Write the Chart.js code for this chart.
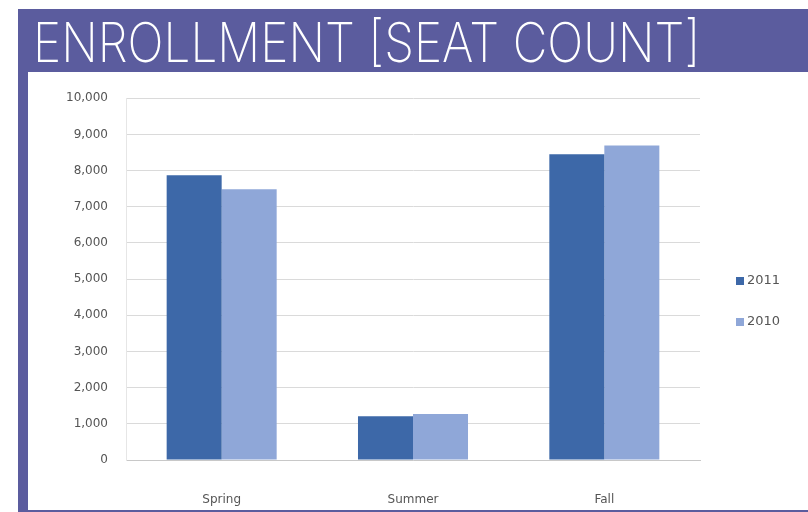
<!DOCTYPE html>
<html>
<head>
<meta charset="utf-8">
<script src="https://cdn.jsdelivr.net/npm/chart.js@4/dist/chart.umd.min.js"></script>
<style>
  html, body { margin: 0; padding: 0; background: #fff; }
  #page { position: relative; width: 808px; height: 512px; overflow: hidden; background: #fff; }
  #header { position: absolute; left: 18px; top: 9px; width: 790px; height: 63px; background: #5b5c9e; }
  #title { position: absolute; left: 15px; top: 6px; color: #fff; font-family: Inter, "Noto Sans", sans-serif;
           font-weight: 200; font-size: 55px; line-height: 55px; white-space: nowrap; transform-origin: 0 0; }
  #leftbar { position: absolute; left: 18px; top: 72px; width: 10px; height: 440px; background: #5b5c9e; }
  #bottombar { position: absolute; left: 18px; top: 510px; width: 790px; height: 2px; background: #5b5c9e; }
  #wrap { position: absolute; left: 28px; top: 73px; width: 780px; height: 437px; }
</style>
</head>
<body>
<div id="page">
  <div id="header"><div id="title">ENROLLMENT [SEAT COUNT]</div></div>
  <div id="leftbar"></div>
  <div id="bottombar"></div>
  <div id="wrap"><canvas id="enrollChart" width="780" height="437"></canvas></div>
</div>
<script>
const seasons = ["Spring", "Summer", "Fall"];
const seats2011 = [7870, 1210, 8450];
const seats2010 = [7480, 1270, 8690];
const seriesNames = ["2011", "2010"];

// stretch the title to the width it has in the picture
const title = document.getElementById("title");
title.style.transform = "scaleX(" + (667 / title.offsetWidth) + ")";

const sideLegend = {
  id: "sideLegend",
  afterDraw: (chart) => {
    const ctx = chart.ctx;
    ctx.save();
    ctx.font = "13px 'DejaVu Sans', sans-serif";
    ctx.textBaseline = "middle";
    chart.data.datasets.forEach((ds, i) => {
      const y = 208 + i * 41;
      ctx.fillStyle = ds.backgroundColor;
      ctx.fillRect(708, y - 4, 8, 8);
      ctx.fillStyle = "#555";
      ctx.fillText(ds.label, 719, y);
    });
    ctx.restore();
  }
};

const ctx = document.getElementById("enrollChart").getContext("2d");

new Chart(ctx, {
  type: "bar",
  data: {
    labels: seasons,
    datasets: [
      { label: seriesNames[0], data: seats2011, backgroundColor: "#3d68a8" },
      { label: seriesNames[1], data: seats2010, backgroundColor: "#8fa7d8" }
    ]
  },
  options: {
    responsive: false,
    animation: false,
    layout: { padding: { top: 24, right: 108, left: 0, bottom: 0 } },
    datasets: { bar: { categoryPercentage: 0.575, barPercentage: 1 } },
    plugins: {
      legend: { display: false },
      tooltip: { enabled: false }
    },
    scales: {
      x: {
        grid: { display: false },
        border: { color: "#c8c8c8" },
        ticks: { color: "#555", padding: 25, font: { family: "DejaVu Sans", size: 12 } },
        afterFit: (scale) => { scale.height = 50; }
      },
      y: {
        min: 0,
        max: 10000,
        grid: { color: "#dadada", drawTicks: false },
        border: { color: "#e6e6e6" },
        ticks: {
          stepSize: 1000,
          color: "#555",
          padding: 18,
          font: { family: "DejaVu Sans", size: 12 },
          callback: (v) => v.toLocaleString("en-US")
        },
        afterFit: (scale) => { scale.width = 98; }
      }
    }
  },
  plugins: [sideLegend]
});
</script>
</body>
</html>
